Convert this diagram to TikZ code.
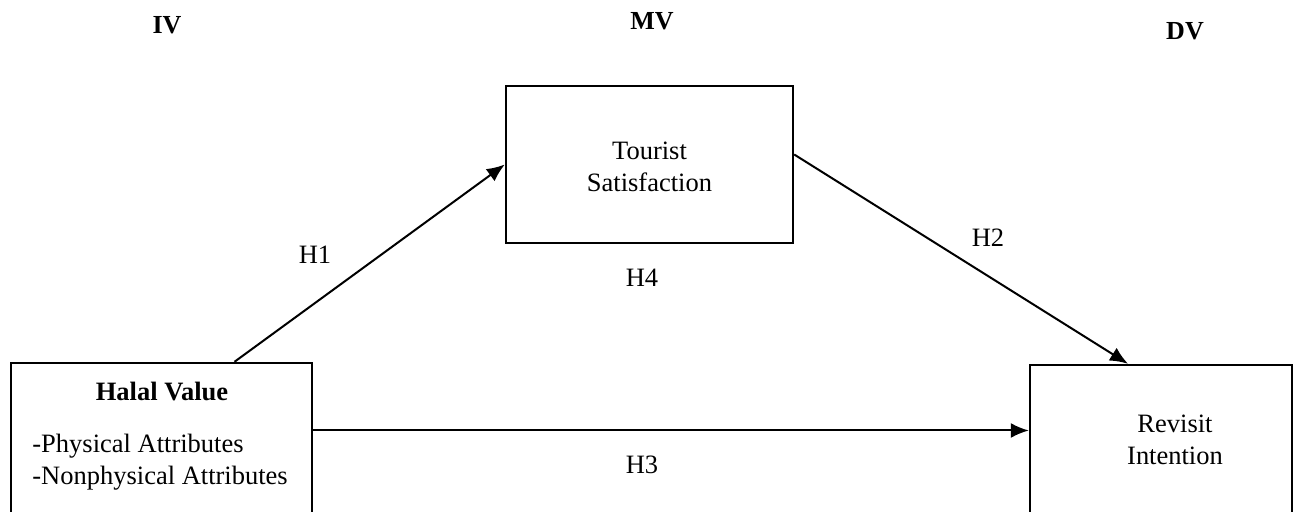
\documentclass[tikz,border=0pt]{standalone}
\usepackage{fontspec}
\setmainfont{Liberation Serif}
\usetikzlibrary{arrows.meta, calc, positioning}
\tikzstyle{line} = [draw, -{Latex[length=9pt,width=7.5pt]}, line width=1pt]
\tikzstyle{block} = [rectangle, draw, line width=1.2pt, text centered]
\tikzstyle{txt} = [inner sep=0pt, font=\fontsize{13.25}{15.8}\selectfont]
\tikzstyle{head} = [inner sep=0pt, font=\fontsize{13}{15}\selectfont\bfseries]

\begin{document}
\begin{tikzpicture}[x=0.5pt, y=-0.5pt]
\clip (0,0) rectangle (1296,512);
% column headings
\node [head] (iv) at (167,25.5) {IV};
\node [head] (mv) at (652,21) {MV};
\node [head] (dv) at (1185,31) {DV};
% boxes
\node [block, minimum width=143.5pt, minimum height=78.5pt] (tourist) at (649.5,164.5) {};
\node [block, minimum width=150.5pt, minimum height=79pt] (halal) at (161.5,442) {};
\node [block, minimum width=131pt, minimum height=79pt] (revisit) at (1161,444) {};
% box texts
\node [txt, align=center] (touristtext) at (649.5,167) {Tourist\\Satisfaction};
\node [txt, font=\fontsize{13.25}{15.8}\selectfont\bfseries] (halaltitle) at (162,392) {Halal Value};
\node [txt, align=left, anchor=north west] (halalitems) at (32,434) {-Physical Attributes\\-Nonphysical Attributes};
\node [txt, align=center] (revisittext) at (1175,440) {Revisit\\Intention};
% paths
\path [line] ($(halal.north)+(73,0)$) -- (tourist.west);
\path [line] ($(tourist.east)+(0,-10)$) -- ($(revisit.north)+(-33,0)$);
\path [line] ($(halal.east)+(0,-11.5)$) -- ($(revisit.west)+(0,-13.5)$);
% hypothesis labels
\node [txt] (h1) at (315,255) {H1};
\node [txt] (h4) at (642,278) {H4};
\node [txt] (h2) at (988,238) {H2};
\node [txt] (h3) at (642,465) {H3};
\end{tikzpicture}
\end{document}
